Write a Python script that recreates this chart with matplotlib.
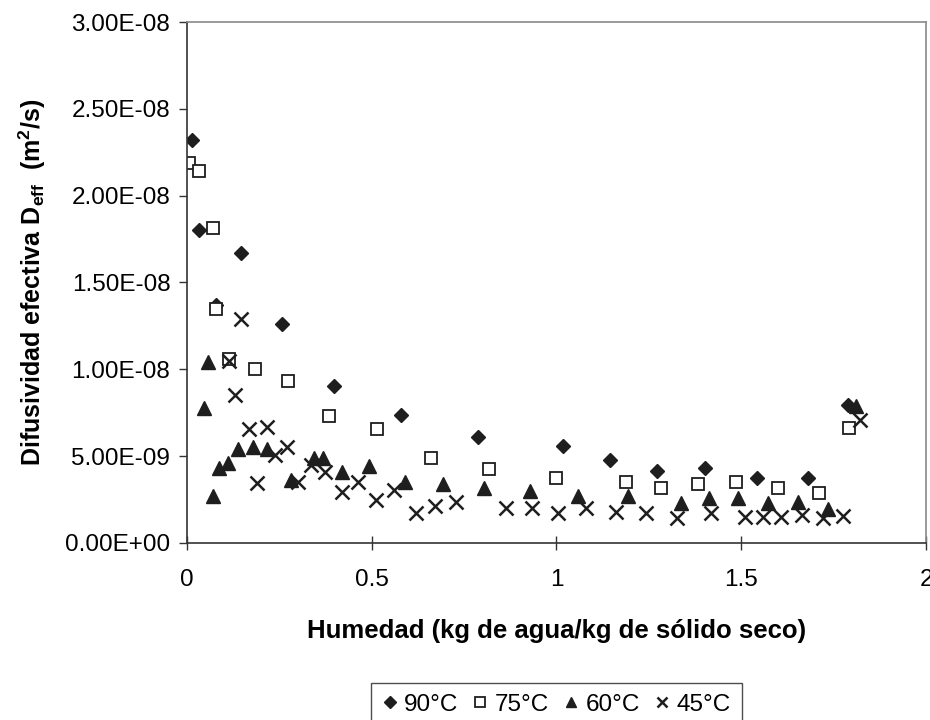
import matplotlib
matplotlib.use("Agg")
import matplotlib.pyplot as plt
from matplotlib.ticker import FuncFormatter

plt.rcParams['font.family'] = ['Liberation Sans', 'DejaVu Sans']
plt.rcParams['mathtext.default'] = 'regular'

# -----------------------------
# Data: moisture (kg water / kg dry solid) vs effective diffusivity (m2/s)
# -----------------------------
x_90 = [0.013, 0.034, 0.079, 0.147, 0.256, 0.399, 0.579, 0.788, 1.017, 1.146,
        1.273, 1.402, 1.542, 1.681, 1.790]
d_90 = [23.2e-9, 18.0e-9, 13.7e-9, 16.7e-9, 12.6e-9, 9.06e-9, 7.35e-9, 6.12e-9,
        5.57e-9, 4.76e-9, 4.16e-9, 4.30e-9, 3.76e-9, 3.72e-9, 7.95e-9]

x_75 = [0.006, 0.033, 0.071, 0.080, 0.115, 0.184, 0.274, 0.385, 0.515, 0.660,
        0.818, 0.998, 1.187, 1.283, 1.384, 1.486, 1.599, 1.710, 1.792]
d_75 = [21.9e-9, 21.4e-9, 18.15e-9, 13.45e-9, 10.6e-9, 10.0e-9, 9.33e-9, 7.29e-9,
        6.56e-9, 4.87e-9, 4.24e-9, 3.76e-9, 3.53e-9, 3.18e-9, 3.40e-9, 3.49e-9,
        3.15e-9, 2.86e-9, 6.64e-9]

x_60 = [0.047, 0.056, 0.071, 0.087, 0.110, 0.137, 0.179, 0.218, 0.281, 0.344,
        0.367, 0.419, 0.493, 0.590, 0.692, 0.804, 0.928, 1.058, 1.194, 1.337,
        1.413, 1.492, 1.573, 1.653, 1.734, 1.810]
d_60 = [7.79e-9, 10.4e-9, 2.71e-9, 4.30e-9, 4.62e-9, 5.41e-9, 5.51e-9, 5.41e-9,
        3.63e-9, 4.87e-9, 4.87e-9, 4.07e-9, 4.45e-9, 3.53e-9, 3.40e-9, 3.15e-9,
        3.01e-9, 2.72e-9, 2.72e-9, 2.28e-9, 2.57e-9, 2.57e-9, 2.28e-9, 2.38e-9,
        1.96e-9, 7.90e-9]

x_45 = [0.115, 0.131, 0.146, 0.168, 0.189, 0.216, 0.238, 0.270, 0.301, 0.337,
        0.373, 0.419, 0.462, 0.511, 0.561, 0.619, 0.671, 0.727, 0.863, 0.933,
        1.005, 1.080, 1.160, 1.242, 1.325, 1.418, 1.510, 1.558, 1.608, 1.664,
        1.722, 1.775, 1.821]
d_45 = [10.5e-9, 8.5e-9, 12.9e-9, 6.54e-9, 3.44e-9, 6.70e-9, 5.07e-9, 5.55e-9,
        3.53e-9, 4.49e-9, 4.07e-9, 2.95e-9, 3.49e-9, 2.48e-9, 3.05e-9, 1.71e-9,
        2.13e-9, 2.38e-9, 2.03e-9, 2.03e-9, 1.71e-9, 2.03e-9, 1.80e-9, 1.71e-9,
        1.42e-9, 1.71e-9, 1.51e-9, 1.48e-9, 1.48e-9, 1.61e-9, 1.42e-9, 1.57e-9,
        7.08e-9]

labels = ["90°C", "75°C", "60°C", "45°C"]
y_ticks = [0, 5e-9, 1e-8, 1.5e-8, 2e-8, 2.5e-8, 3e-8]
x_ticks = [0, 0.5, 1, 1.5, 2]

# -----------------------------
# Plot
# -----------------------------
ink = "#1e1e1e"
fig = plt.figure(figsize=(9.3, 7.2), dpi=100)
ax = fig.add_axes([0.201, 0.246, 0.7947, 0.7234])

ax.plot(x_90, d_90, linestyle="none", marker="D", markersize=7.5,
        color=ink, label=labels[0])
ax.plot(x_75, d_75, linestyle="none", marker="s", markersize=9,
        markerfacecolor="white", markeredgecolor=ink, markeredgewidth=1.3,
        label=labels[1])
ax.plot(x_60, d_60, linestyle="none", marker="^", markersize=9.5,
        color=ink, label=labels[2])
ax.plot(x_45, d_45, linestyle="none", marker="x", markersize=9.5,
        markeredgewidth=1.8, color=ink, label=labels[3])

ax.set_xlim(0, 2)
ax.set_ylim(0, 3e-8)
ax.set_xticks(x_ticks)
ax.set_yticks(y_ticks)
ax.xaxis.set_major_formatter(FuncFormatter(lambda v, p: f"{v:g}"))
ax.yaxis.set_major_formatter(FuncFormatter(lambda v, p: f"{v:.2E}"))
ax.tick_params(axis="both", labelsize=17.5, length=6, width=1, color="#333333",
               direction="out", pad=6)
ax.tick_params(axis="x", direction="inout", length=10, pad=14)

for side in ["left", "bottom"]:
    ax.spines[side].set_color("#333333")
    ax.spines[side].set_linewidth(1.2)
for side in ["top", "right"]:
    ax.spines[side].set_color("#8a8a8a")
    ax.spines[side].set_linewidth(1.2)

ax.set_xlabel("Humedad (kg de agua/kg de sólido seco)", fontsize=18.5,
              fontweight="bold", labelpad=20)
ax.set_ylabel(r"Difusividad efectiva D$_{eff}$  (m$^{2}$/s)", fontsize=18,
              fontweight="bold", labelpad=12)

leg = ax.legend(loc="upper center", bbox_to_anchor=(0.5, -0.245), ncol=4,
                frameon=True, fancybox=False, fontsize=17.5, handlelength=0.6,
                handletextpad=0.3, columnspacing=0.6, borderpad=0.45,
                markerscale=0.75)
leg.get_frame().set_edgecolor("#222222")
leg.get_frame().set_linewidth(1.0)

fig.savefig("out.png", dpi=100)
